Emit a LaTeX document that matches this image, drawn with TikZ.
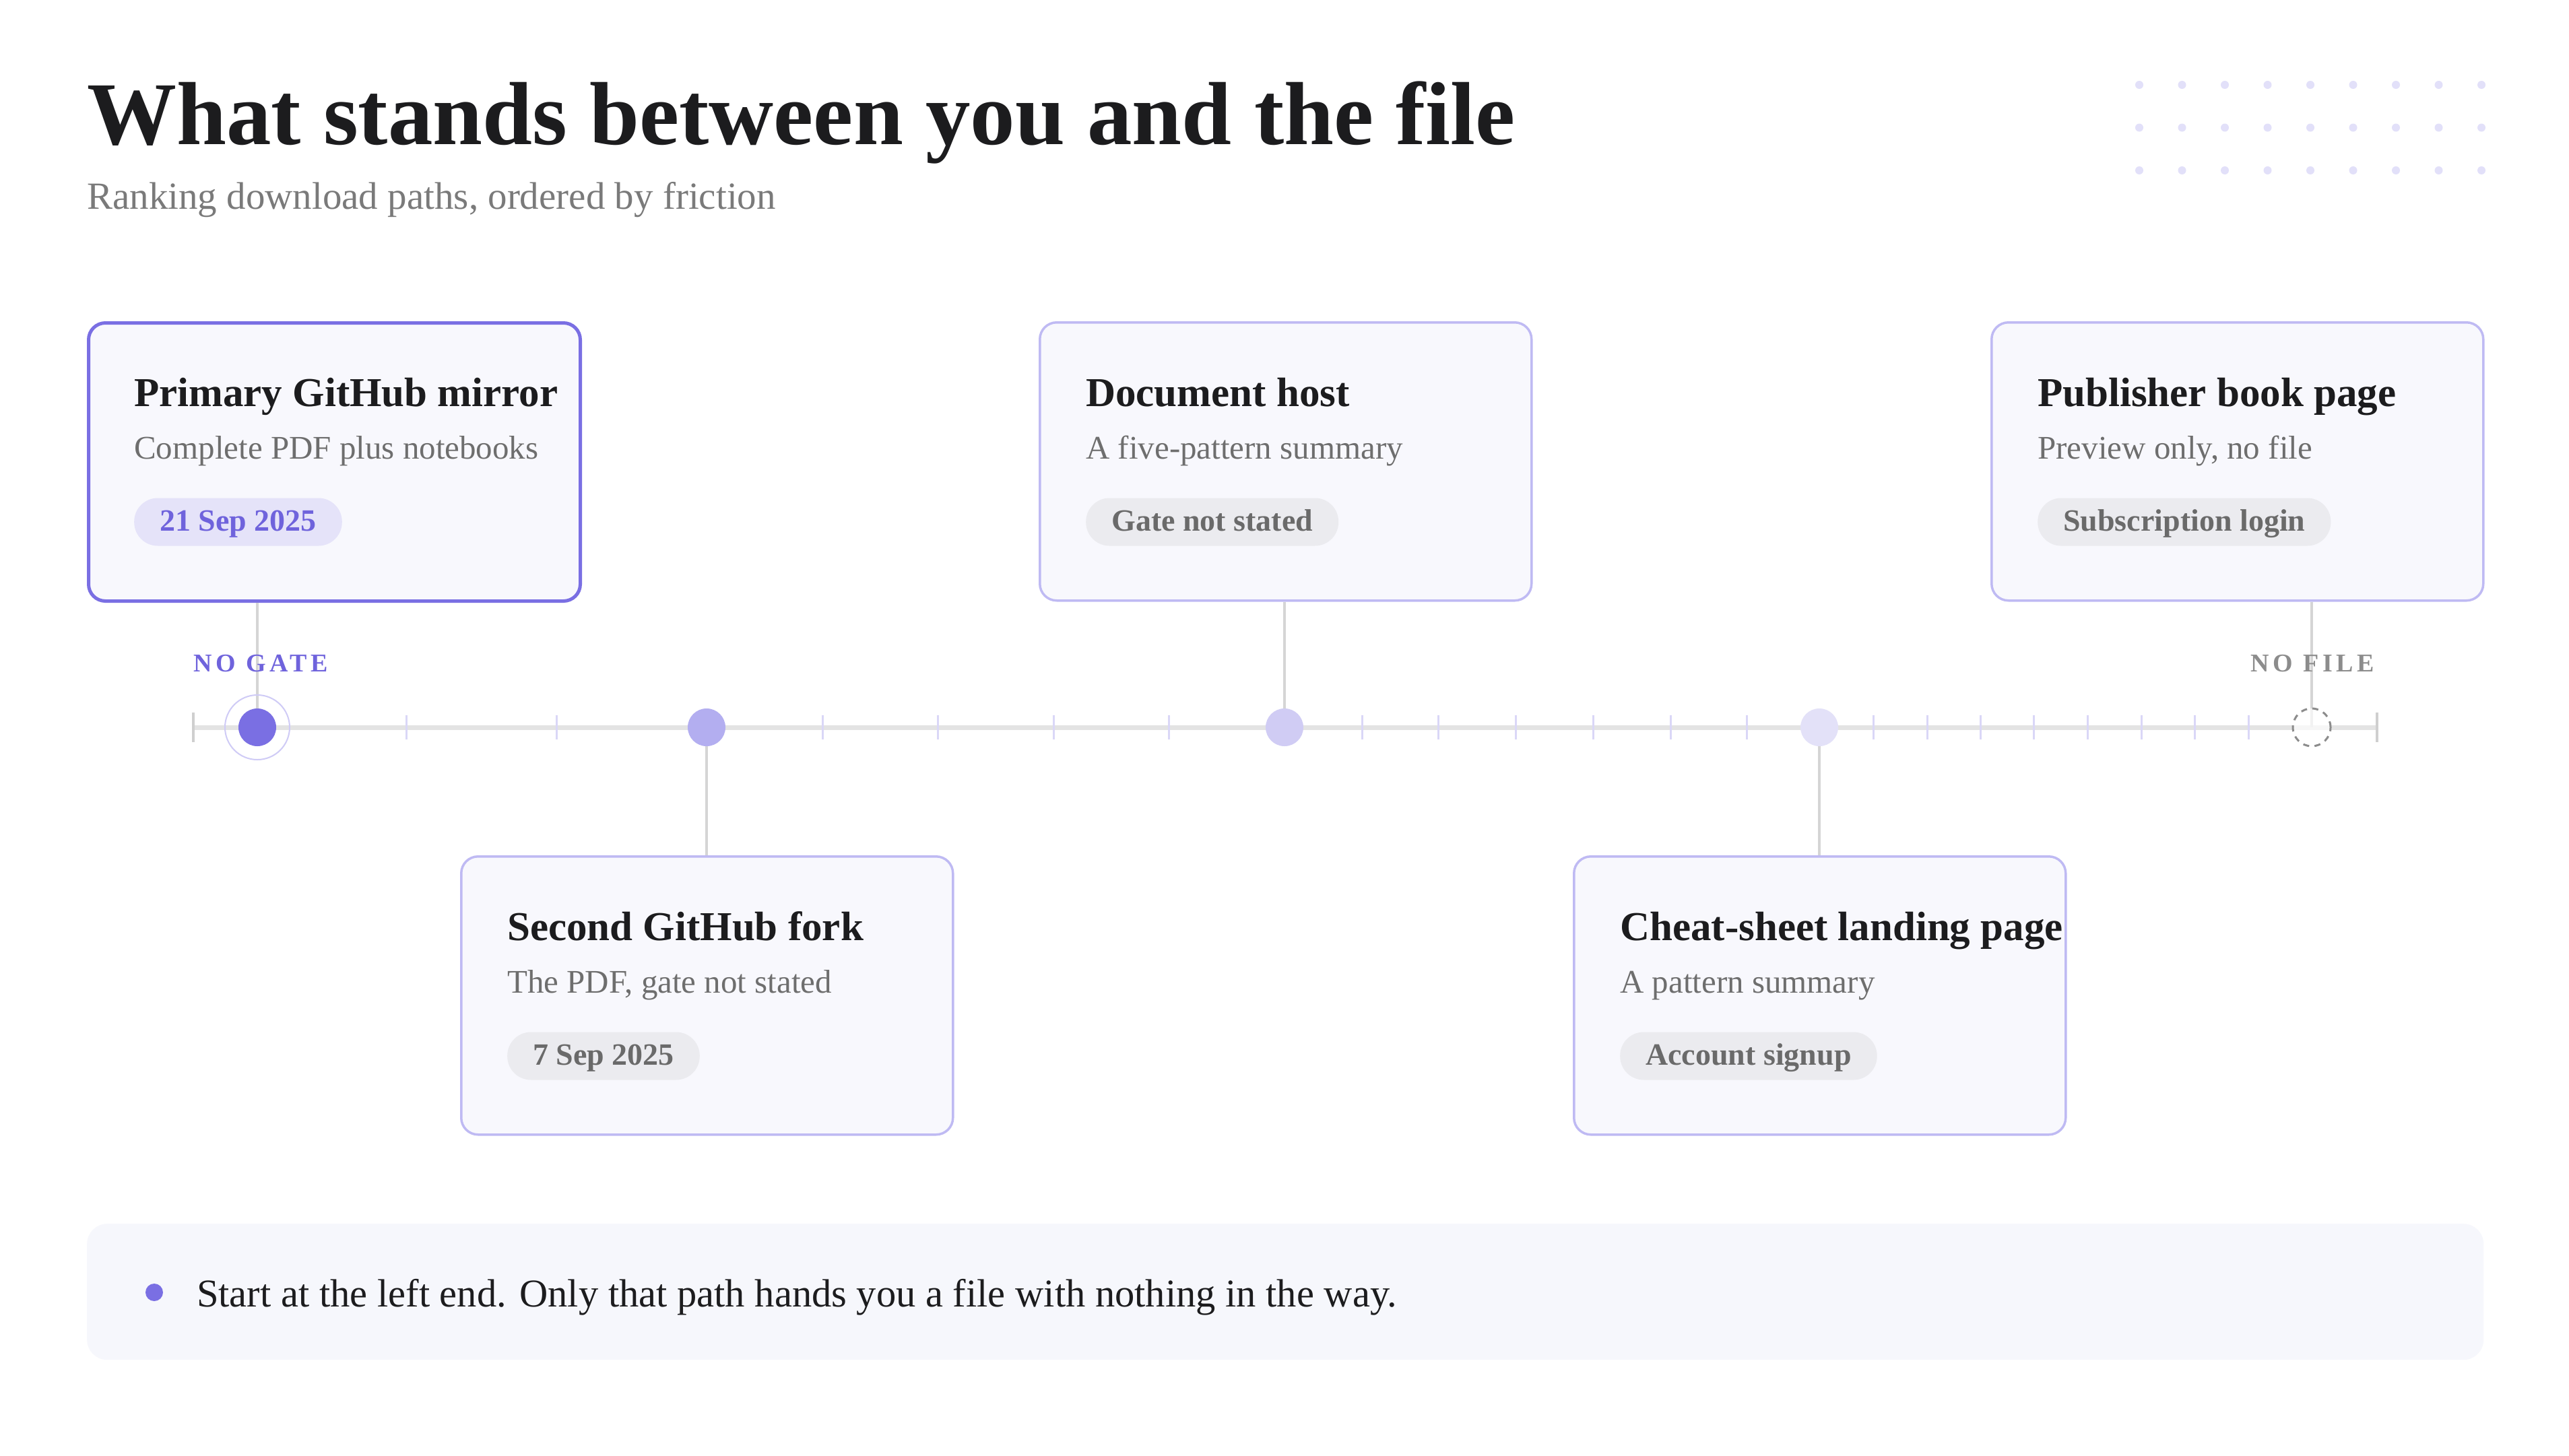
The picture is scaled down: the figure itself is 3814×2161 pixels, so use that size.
\documentclass[tikz,border=0pt]{standalone}
\usepackage{fontspec}
\setmainfont{Liberation Serif}
\definecolor{ink}{HTML}{1C1C1E}
\definecolor{subgrey}{HTML}{7A7A7A}
\definecolor{cardsubgrey}{HTML}{6E6E6E}
\definecolor{gridc}{HTML}{E2E0F9}
\definecolor{cardfill}{HTML}{F8F8FD}
\definecolor{accent}{HTML}{7A6FE3}
\definecolor{cardline}{HTML}{BFBAF3}
\definecolor{pillpurp}{HTML}{E5E3F9}
\definecolor{pillpurptext}{HTML}{6F63DC}
\definecolor{pillgrey}{HTML}{EBEBEF}
\definecolor{pillgreytext}{HTML}{6A6A6A}
\definecolor{connc}{HTML}{D5D5D5}
\definecolor{trackc}{HTML}{E3E3E3}
\definecolor{endtickc}{HTML}{CFCFCF}
\definecolor{mtickc}{HTML}{DAD7F7}
\definecolor{ringc}{HTML}{CFCBF6}
\definecolor{dotb}{HTML}{B3AEF0}
\definecolor{dotc}{HTML}{D0CCF4}
\definecolor{dotd}{HTML}{E3E1F8}
\definecolor{nofilec}{HTML}{8C8C8C}
\definecolor{footfill}{HTML}{F6F7FC}
\tikzset{
  cardbox/.style={draw=cardline, line width=3.5, fill=cardfill, rounded corners=25, minimum width=730, minimum height=413, inner sep=0},
  firstcard/.style={draw=accent, line width=5},
  plaincard/.style={},
  cardtitle/.style={anchor=base west, inner sep=0, text=ink, font={\fontsize{61}{70}\selectfont\bfseries}},
  cardsub/.style={anchor=base west, inner sep=0, text=cardsubgrey, font={\fontsize{49}{58}\selectfont}},
  pillbase/.style={rounded corners=35, minimum height=71, inner xsep=38, inner ysep=0, text height=33, text depth=7, font={\fontsize{46}{52}\selectfont\bfseries}},
  pillp/.style={pillbase, fill=pillpurp, text=pillpurptext},
  pillg/.style={pillbase, fill=pillgrey, text=pillgreytext},
  conn/.style={draw=connc, line width=3.5},
  track/.style={draw=trackc, line width=7},
  endtick/.style={draw=endtickc, line width=3.5},
  mtick/.style={draw=mtickc, line width=3},
  tdot/.style={circle, minimum size=56, inner sep=0},
  tag/.style={anchor=base west, inner sep=0, font={\fontsize{38}{44}\selectfont\bfseries\addfontfeature{LetterSpace=15}}},
}
\newcommand\mkcard[8]{%
  \node[cardbox,#7,anchor=north west] (#1) at (#2,#3) {};
  \node[cardtitle] (#1-t) at (#2+70,#3+126) {#4};
  \node[cardsub] (#1-s) at (#2+70,#3+204) {#5};
  \node[#8,anchor=west] (#1-p) at (#2+70,#3+298) {#6};
}
\begin{document}
\begin{tikzpicture}[x=1pt,y=-1pt]
\useasboundingbox[fill=white] (0,0) rectangle (3814,2161);
% title
\node[anchor=base west, inner sep=0, text=ink, font={\fontsize{133}{140}\selectfont\bfseries}] (title) at (129,214) {What stands between you and the file};
\node[anchor=base west, inner sep=0, text=subgrey, font={\fontsize{57}{64}\selectfont}] (subtitle) at (129,310) {Ranking download paths, ordered by friction};
% dot grid
\foreach \i in {0,...,8} \foreach \j in {0,1,2} \fill[gridc] (3176+63.5*\i,126+63.5*\j) circle (6);
% cards
\mkcard{c1}{129}{477}{Primary GitHub mirror}{Complete PDF plus notebooks}{21 Sep 2025}{firstcard}{pillp}
\mkcard{c2}{683}{1270}{Second GitHub fork}{The PDF, gate not stated}{7 Sep 2025}{plaincard}{pillg}
\mkcard{c3}{1542}{477}{Document host}{A five-pattern summary}{Gate not stated}{plaincard}{pillg}
\mkcard{c4}{2335}{1270}{Cheat-sheet landing page}{A pattern summary}{Account signup}{plaincard}{pillg}
\mkcard{c5}{2955}{477}{Publisher book page}{Preview only, no file}{Subscription login}{plaincard}{pillg}
% timeline track
\coordinate (tl0) at (287,1080);
\coordinate (tl1) at (3529,1080);
\draw[track] (tl0) -- (tl1);
\draw[endtick] (287,1058) -- (287,1102);
\draw[endtick] (3529,1058) -- (3529,1102);
\foreach \x in {603,826,1221,1392,1564,1735,2022,2135,2250,2365,2480,2593,2781,2861,2940,3019,3099,3179,3258,3338}
  \draw[mtick] (\x,1062) -- (\x,1098);
% dot anchors
\coordinate (p1) at (382,1080);
\coordinate (p2) at (1049,1080);
\coordinate (p3) at (1907,1080);
\coordinate (p4) at (2701,1080);
\coordinate (p5) at (3432,1080);
% connectors
\draw[conn] (c1.south -| p1) -- (p1);
\draw[conn] (p2) -- (c2.north -| p2);
\draw[conn] (c3.south -| p3) -- (p3);
\draw[conn] (p4) -- (c4.north -| p4);
\draw[conn] (c5.south -| p5) -- (p5);
% dots
\draw[ringc, line width=2] (p1) circle (48);
\node[tdot, fill=accent] (d1) at (p1) {};
\node[tdot, fill=dotb] (d2) at (p2) {};
\node[tdot, fill=dotc] (d3) at (p3) {};
\node[tdot, fill=dotd] (d4) at (p4) {};
\node[tdot, draw=nofilec, line width=3, dash pattern=on 9 off 8, fill=white, fill opacity=0.7] (d5) at (p5) {};
% tags
\node[tag, text=pillpurptext] (nogate) at (287,997) {NO GATE};
\node[tag, text=nofilec] (nofile) at (3341,997) {NO FILE};
% footer
\node[fill=footfill, rounded corners=30, minimum width=3558, minimum height=202, inner sep=0, anchor=north west] (foot) at (129,1817) {};
\node[circle, fill=accent, minimum size=26, inner sep=0] (bullet) at (229,1919) {};
\node[anchor=base west, inner sep=0, text=ink, font={\fontsize{58.5}{66}\selectfont}] (foottext) at (292,1940) {Start at the left end. Only that path hands you a file with nothing in the way.};
\end{tikzpicture}
\end{document}
